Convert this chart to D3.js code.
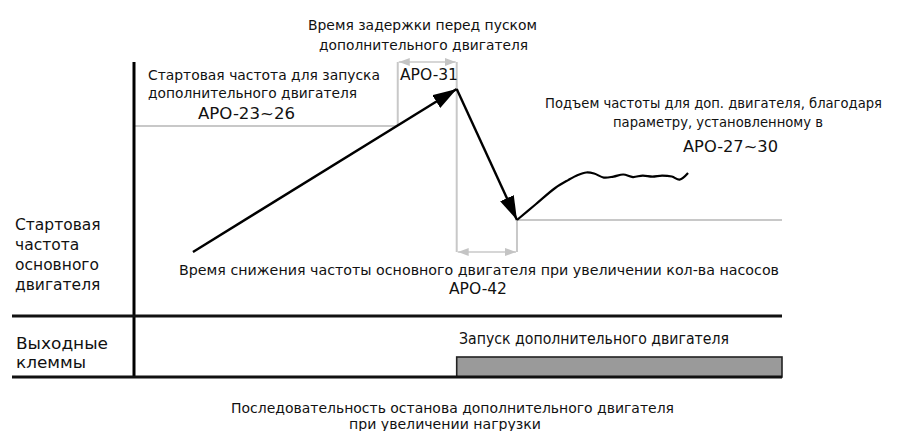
<!DOCTYPE html>
<html>
<head>
<meta charset="utf-8">
<script src="https://cdn.jsdelivr.net/npm/d3@7"></script>
<style>
  html, body { margin: 0; padding: 0; background: #fff; }
  svg { display: block; }
</style>
</head>
<body>
<svg id="chart" width="908" height="431"></svg>
<script>
// ---- data (time units, frequency %) ----
const risePoints = [[0.91, 25.2], [4.98, 89.4]];          // main motor ramp up
const dropPoints = [[4.98, 89.4], [5.91, 37.8]];          // decel when pump added
const auxCurve = [[5.91, 37.8], [6.2, 44.0], [6.5, 50.4], [6.7, 53.5], [6.85, 55.5], [6.98, 56.5],
                  [7.1, 56.1], [7.25, 54.5], [7.4, 54.9], [7.55, 55.7], [7.7, 54.7],
                  [7.85, 55.3], [8.0, 54.9], [8.15, 55.3], [8.3, 54.9], [8.42, 53.7], [8.55, 56.3]];
const startFreqAux = 74.8;     // APO-23~26 level
const startFreqMain = 37.8;    // level after decel
const delayStart = 4.07, delayEnd = 4.98;   // APO-31
const decelStart = 4.98, decelEnd = 5.91;   // APO-42
const auxOnTime = 4.98;        // output terminal on
const timeEnd = 10;

const labels = {
  delay: ["Время задержки перед пуском", "дополнительного двигателя"],
  startAux: ["Стартовая частота для запуска", "дополнительного двигателя"],
  startAuxCode: "APO-23~26",
  delayCode: "APO-31",
  rise: ["Подъем частоты для доп. двигателя, благодаря", "параметру, установленному в"],
  riseCode: "APO-27~30",
  decel: "Время снижения частоты основного двигателя при увеличении кол-ва насосов",
  decelCode: "APO-42",
  yLabel: ["Стартовая", "частота", "основного", "двигателя"],
  outLabel: ["Выходные", "клеммы"],
  outText: "Запуск дополнительного двигателя",
  caption: ["Последовательность останова дополнительного двигателя", "при увеличении нагрузки"]
};

// ---- layout ----
const svg = d3.select("#chart");
const x = d3.scaleLinear().domain([0, timeEnd]).range([134, 782]);
const y = d3.scaleLinear().domain([0, 100]).range([316, 62]);
const outTop = 357, outBottom = 377, leftEdge = 12;

const defs = svg.append("defs");
function marker(id, len, wid, color) {
  defs.append("marker").attr("id", id)
    .attr("viewBox", `0 0 ${len} ${wid}`).attr("refX", len).attr("refY", wid / 2)
    .attr("markerWidth", len).attr("markerHeight", wid)
    .attr("markerUnits", "userSpaceOnUse").attr("orient", "auto-start-reverse")
    .append("path").attr("d", `M0,0L${len},${wid / 2}L0,${wid}Z`).attr("fill", color);
}
marker("blk", 24, 15, "#000");
marker("gry", 11, 8, "#c4c4c4");

const gray = "#c8c8c8";
const g = svg.append("g");
function gline(x1, y1, x2, y2, sw) {
  return g.append("line").attr("x1", x1).attr("y1", y1).attr("x2", x2).attr("y2", y2)
    .attr("stroke", gray).attr("stroke-width", sw || 2);
}
// gray guide lines
gline(x(0), y(startFreqAux), x(delayStart), y(startFreqAux));
gline(x(delayStart), y(100), x(delayStart), y(startFreqAux));
gline(x(delayEnd), y(100), x(delayEnd), y(25.2));
gline(x(decelEnd), y(startFreqMain), x(decelEnd), y(25.2));
gline(x(decelEnd), y(startFreqMain), x(timeEnd), y(startFreqMain));
// gray double arrows
gline(x(delayStart) + 1, y(100), x(delayEnd) - 1, y(100), 1.6)
  .attr("marker-start", "url(#gry)").attr("marker-end", "url(#gry)");
gline(x(decelStart) + 1, y(25.2), x(decelEnd) - 1, y(25.2), 1.6)
  .attr("marker-start", "url(#gry)").attr("marker-end", "url(#gry)");

// black lines
const line = d3.line().x(d => x(d[0])).y(d => y(d[1]));
g.append("path").attr("d", line(risePoints)).attr("fill", "none")
  .attr("stroke", "#000").attr("stroke-width", 2.4).attr("marker-end", "url(#blk)");
g.append("path").attr("d", line(dropPoints)).attr("fill", "none")
  .attr("stroke", "#000").attr("stroke-width", 2.4).attr("marker-end", "url(#blk)");
g.append("path").attr("d", line.curve(d3.curveCatmullRom)(auxCurve)).attr("fill", "none")
  .attr("stroke", "#000").attr("stroke-width", 2.2);

// output bar
g.append("rect").attr("x", x(auxOnTime)).attr("y", outTop)
  .attr("width", x(timeEnd) - x(auxOnTime)).attr("height", outBottom - outTop)
  .attr("fill", "#9a9a9a").attr("stroke", "#222").attr("stroke-width", 1.6);

// axes / frame
g.append("line").attr("x1", x(0)).attr("y1", y(100)).attr("x2", x(0)).attr("y2", outBottom)
  .attr("stroke", "#000").attr("stroke-width", 3);
g.append("line").attr("x1", leftEdge).attr("y1", y(0)).attr("x2", x(timeEnd)).attr("y2", y(0))
  .attr("stroke", "#111").attr("stroke-width", 3);
g.append("line").attr("x1", leftEdge).attr("y1", outBottom).attr("x2", x(timeEnd)).attr("y2", outBottom)
  .attr("stroke", "#111").attr("stroke-width", 3);

// texts
const main = "'DejaVu Sans', Verdana, sans-serif";
const narrow = "'Liberation Sans Narrow', 'DejaVu Sans Condensed', sans-serif";
function txt(s, px, py, size, opts = {}) {
  const t = svg.append("text").attr("x", px).attr("y", py).text(s)
    .attr("font-family", opts.font || main).attr("font-size", size)
    .attr("fill", "#111").attr("dominant-baseline", "central")
    .attr("text-anchor", opts.anchor || "start");
  if (opts.w) t.attr("textLength", opts.w).attr("lengthAdjust", "spacingAndGlyphs");
  return t;
}
txt(labels.delay[0], 308, 25, 13.5, { w: 229 });
txt(labels.delay[1], 319, 45, 13.5, { w: 209 });
txt(labels.startAux[0], 148, 75, 13.5, { w: 232 });
txt(labels.startAux[1], 148, 93, 13.5, { w: 209 });
txt(labels.startAuxCode, 198, 113, 16, { w: 97 });
txt(labels.delayCode, 400, 74, 16, { w: 58 });
txt(labels.rise[0], 545, 103, 13.5, { w: 337 });
txt(labels.rise[1], 613, 122, 13.5, { w: 210 });
txt(labels.riseCode, 683, 146, 16, { w: 95 });
txt(labels.decel, 179, 270, 13.5, { w: 600 });
txt(labels.decelCode, 449, 288, 16, { w: 58 });
labels.yLabel.forEach((s, i) => txt(s, 15, 225 + i * 20, 15.5));
txt(labels.outLabel[0], 16, 343, 16, { font: narrow, w: 92 });
txt(labels.outLabel[1], 16, 362, 16, { font: narrow, w: 70 });
txt(labels.outText, 459, 339, 15, { font: narrow, w: 270 });
txt(labels.caption[0], 231, 408, 14.5, { font: narrow, w: 443 });
txt(labels.caption[1], 349, 424, 14.5, { font: narrow, w: 192 });
</script>
</body>
</html>
